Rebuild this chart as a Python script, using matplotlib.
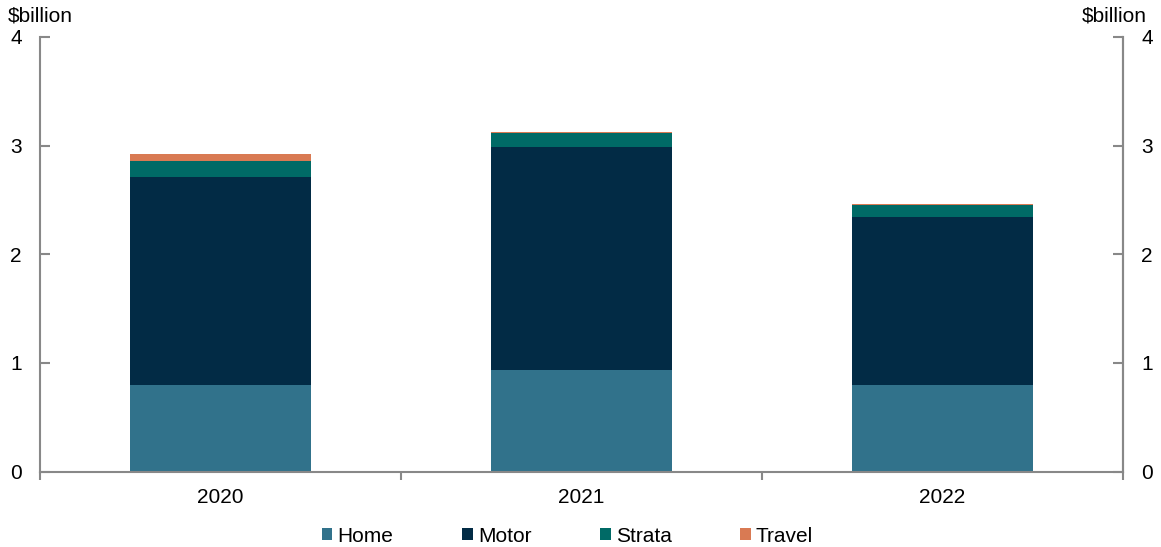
import matplotlib
matplotlib.use("Agg")
import matplotlib.pyplot as plt
import numpy as np

plt.rcParams['font.family'] = ['Liberation Sans', 'DejaVu Sans']

years = ["2020", "2021", "2022"]
home = [0.80, 0.93, 0.80]
motor = [1.91, 2.06, 1.54]
strata = [0.15, 0.125, 0.115]
travel = [0.06, 0.008, 0.01]
series = [("Home", home, "#31728B"), ("Motor", motor, "#022B45"),
          ("Strata", strata, "#006A66"), ("Travel", travel, "#D97A53")]

FS = 15
fig = plt.figure(figsize=(11.61, 5.47), dpi=100)
ax = fig.add_axes([40/1161, 1-471.5/547, 1083/1161, 434.5/547])
x = np.arange(len(years))
bottom = np.zeros(len(years))
handles = []
for name, vals, col in series:
    b = ax.bar(x, vals, 0.5, bottom=bottom, color=col, label=name, zorder=2)
    handles.append(b)
    bottom += np.array(vals)

ax.set_xlim(-0.5, 2.5)
ax.set_ylim(0, 4)
ax.set_yticks([0, 1, 2, 3, 4])
ax.set_xticks(x)
ax.set_xticklabels(years)
ax.set_xticks([-0.5, 0.5, 1.5, 2.5], minor=True)
ax.tick_params(axis='x', which='major', length=0, labelsize=FS, pad=12)
ax.tick_params(axis='x', which='minor', length=6, direction='out', color='#888888', width=1.5)
ax.tick_params(axis='y', length=7, direction='in', color='#888888', width=1.5, labelsize=FS, pad=13)
ax.spines['top'].set_visible(False)
for s in ['left', 'right', 'bottom']:
    ax.spines[s].set_color('#888888')
    ax.spines[s].set_linewidth(1.5)

ax2 = ax.twinx()
ax2.set_ylim(0, 4)
ax2.set_yticks([0, 1, 2, 3, 4])
ax2.tick_params(axis='y', length=7, direction='in', color='#888888', width=1.5, labelsize=FS, pad=13)
for s in ['top', 'left', 'bottom']:
    ax2.spines[s].set_visible(False)
ax2.spines['right'].set_color('#888888')
ax2.spines['right'].set_linewidth(1.5)

fig.text(8/1161, 1-16/547, "$billion", fontsize=FS, va='center', ha='left')
fig.text(1147/1161, 1-16/547, "$billion", fontsize=FS, va='center', ha='right')

fig.legend(handles=handles, labels=[s[0] for s in series], loc='center left',
           bbox_to_anchor=(322/1161, 1-536/547), ncol=4, frameon=False, fontsize=FS,
           handlelength=0.5, handleheight=0.5, handletextpad=0.25, columnspacing=3.3,
           borderpad=0, borderaxespad=0)

fig.savefig("out.png", dpi=100)
